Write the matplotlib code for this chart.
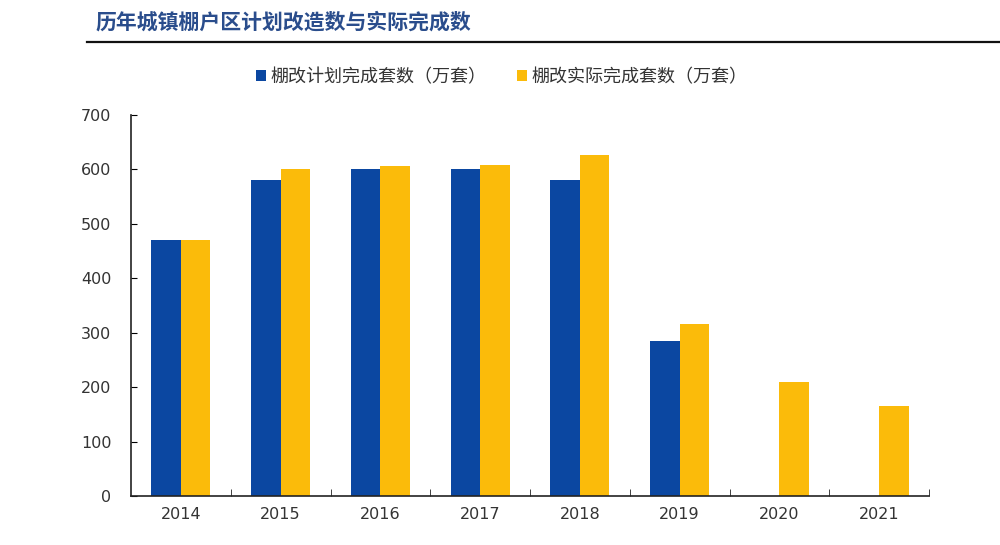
#!/usr/bin/env python3
"""Planned vs. completed shanty-town renovation units by year."""

import matplotlib

matplotlib.use("Agg")
import matplotlib.pyplot as plt
import numpy as np
from matplotlib.lines import Line2D
from matplotlib.patches import Patch

plt.rcParams["font.family"] = ["Noto Sans CJK SC", "DejaVu Sans"]

YEARS = ["2014", "2015", "2016", "2017", "2018", "2019", "2020", "2021"]
PLANNED = [470, 580, 600, 600, 580, 285, np.nan, np.nan]
COMPLETED = [470, 601, 606, 609, 626, 316, 210, 166]

TITLE = "历年城镇棚户区计划改造数与实际完成数"
LABEL_PLANNED = "棚改计划完成套数（万套）"
LABEL_COMPLETED = "棚改实际完成套数（万套）"

BLUE = "#0b47a1"
YELLOW = "#fbbb0a"
TEXT_GREY = "#333333"


def main() -> None:
    fig = plt.figure(figsize=(10, 5.45), dpi=100)
    fig.patch.set_facecolor("white")
    ax = fig.add_axes([0.131, 0.0899, 0.798, 0.699])

    x = np.arange(len(YEARS))
    width = 0.295
    ax.bar(x - width / 2, PLANNED, width=width, color=BLUE)
    ax.bar(x + width / 2, COMPLETED, width=width, color=YELLOW)

    ax.set_xlim(-0.5, len(YEARS) - 0.5)
    ax.set_ylim(0, 700)
    ax.set_yticks(range(0, 701, 100))
    ax.set_xticks(x)
    ax.set_xticklabels(YEARS)
    ax.set_xticks(np.arange(0.5, len(YEARS), 1.0), minor=True)

    for side in ("top", "right"):
        ax.spines[side].set_visible(False)
    for side in ("left", "bottom"):
        ax.spines[side].set_color("#222222")
        ax.spines[side].set_linewidth(1.2)

    ax.tick_params(axis="x", which="major", length=0, pad=8, labelsize=11.5, labelcolor=TEXT_GREY)
    ax.tick_params(axis="x", which="minor", direction="in", length=5, color="#222222")
    ax.tick_params(axis="y", direction="in", length=4, pad=14, labelsize=11.5, labelcolor=TEXT_GREY)
    for label in ax.get_xticklabels() + ax.get_yticklabels():
        label.set_family("DejaVu Sans")

    # title with rule underneath
    fig.text(0.095, 1 - 22 / 545, TITLE, fontsize=15, fontweight="bold", color="#2a4d8c",
             va="center", ha="left")
    fig.add_artist(Line2D([0.087, 1.0], [1 - 42 / 545] * 2, color="#111111", linewidth=1.6,
                          transform=fig.transFigure))

    handles = [Patch(facecolor=BLUE), Patch(facecolor=YELLOW)]
    fig.legend(handles, [LABEL_PLANNED, LABEL_COMPLETED], loc="center",
               bbox_to_anchor=(0.502, 1 - 77 / 545), ncol=2, frameon=False,
               handlelength=0.55, handleheight=0.55, handletextpad=0.25,
               columnspacing=1.7, fontsize=13, labelcolor=TEXT_GREY)

    fig.savefig("out.png", dpi=100)
    plt.close(fig)


if __name__ == "__main__":
    main()
